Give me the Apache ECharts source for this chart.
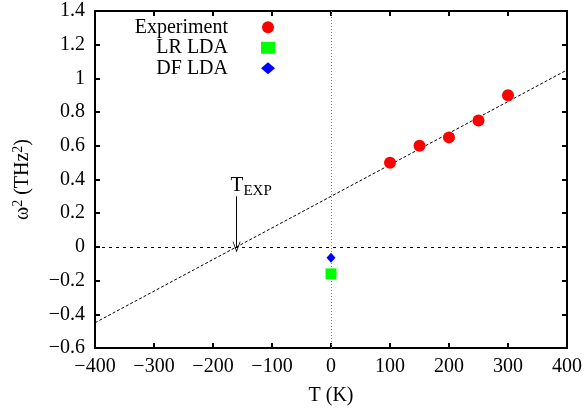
<!DOCTYPE html>
<html><head><meta charset="utf-8">
<script src="https://cdn.jsdelivr.net/npm/echarts@6/dist/echarts.min.js"></script>
<style>html,body{margin:0;padding:0;background:#fff}#c{width:585px;height:412px}</style>
</head><body><div id="c"></div>
<script>
const expT = [100, 150, 200, 250, 300];
const expW2 = [0.5, 0.6, 0.65, 0.75, 0.9];
const lrLda = [[0, -0.16]];
const dfLda = [[0, -0.065]];
const fitLine = [[-400, -0.45], [400, 1.05]];
const tExp = -160;
const arrowTop = 0.3;
const xTicks = [-400, -300, -200, -100, 0, 100, 200, 300, 400];
const yTicks = [-0.6, -0.4, -0.2, 0, 0.2, 0.4, 0.6, 0.8, 1, 1.2, 1.4];

const FONT = 'Liberation Serif';
const fmt = v => String(+v.toFixed(2)).replace('-', '\u2212');
const chart = echarts.init(document.getElementById('c'), null, {renderer: 'canvas'});
const axisBase = {
  axisLine: {show: true, onZero: false, lineStyle: {color: '#000', width: 2}},
  axisTick: {show: true, inside: true, length: 5, lineStyle: {color: '#000', width: 2}},
  splitLine: {show: false}
};
chart.setOption({
  animation: false,
  grid: {left: 95, right: 17, top: 11, bottom: 64, containLabel: false},
  legend: {
    orient: 'vertical', right: 310, top: 17, padding: 0, align: 'right', itemGap: 0,
    itemWidth: 14, itemHeight: 12,
    textStyle: {fontFamily: FONT, fontSize: 20, lineHeight: 20.5, color: '#000', padding: [0, 28, 0, 0]},
    data: ['Experiment', 'LR LDA', 'DF LDA']
  },
  xAxis: [
    Object.assign({type: 'value', min: -400, max: 400, interval: 100, position: 'bottom',
      name: 'T (K)', nameLocation: 'middle', nameGap: 38,
      nameTextStyle: {fontFamily: FONT, fontSize: 20, color: '#000'},
      axisLabel: {fontFamily: FONT, fontSize: 20, color: '#000', margin: 9, formatter: fmt}}, axisBase),
    Object.assign({type: 'value', min: -400, max: 400, interval: 100, position: 'top',
      axisLabel: {show: false}}, axisBase)
  ],
  yAxis: [
    Object.assign({type: 'value', min: -0.6, max: 1.4, interval: 0.2, position: 'left',
      name: '\u03c9{s|2} (THz{s|2})', nameLocation: 'middle', nameGap: 60,
      nameTextStyle: {fontFamily: FONT, fontSize: 20, color: '#000',
        rich: {s: {fontFamily: FONT, fontSize: 14, verticalAlign: 'top', padding: [0,0,10,0]}}},
      axisLabel: {fontFamily: FONT, fontSize: 20, color: '#000', margin: 10, formatter: fmt}}, axisBase),
    Object.assign({type: 'value', min: -0.6, max: 1.4, interval: 0.2, position: 'right',
      axisLabel: {show: false}}, axisBase)
  ],
  series: [
    {
      name: 'fit', type: 'line', data: fitLine, symbol: 'none', silent: true,
      lineStyle: {color: '#000', width: 1, type: [3, 2]},
      markLine: {
        silent: true, symbol: 'none',
        lineStyle: {color: '#000', width: 1, type: [3, 4]},
        label: {show: false},
        data: [{yAxis: 0}, {xAxis: 0, lineStyle: {color: '#888', type: [1, 2]}}]
      }
    },
    {
      name: 'arrow', type: 'line', data: [], symbol: 'none', silent: true,
      markLine: {
        silent: true, symbol: ['none', 'path://M5,0 L10,10 L9,10 L5,2 L1,10 L0,10 Z'], symbolSize: [8, 11],
        lineStyle: {color: '#000', width: 1, type: 'solid'},
        label: {show: true, position: 'start', distance: -2, align: 'left', offset: [-6, 0],
          formatter: '{a|T}{b|EXP}',
          rich: {a: {fontFamily: FONT, fontSize: 21, color: '#000'},
                 b: {fontFamily: FONT, fontSize: 15, color: '#000', padding: [10, 0, 0, 0]}}},
        data: [[{coord: [tExp, arrowTop]}, {coord: [tExp, 0]}]]
      }
    },
    {name: 'Experiment', type: 'scatter', symbol: 'circle', symbolSize: 12,
     itemStyle: {color: '#ff0000', opacity: 1}, data: expT.map((t, i) => [t, expW2[i]]), z: 5},
    {name: 'LR LDA', type: 'scatter', symbol: 'rect', symbolSize: 11,
     itemStyle: {color: '#00ff00', opacity: 1}, data: lrLda, z: 5},
    {name: 'DF LDA', type: 'scatter', symbol: 'diamond', symbolSize: [9, 10],
     itemStyle: {color: '#0000ff', opacity: 1}, data: dfLda, z: 5}
  ]
});
</script></body></html>
